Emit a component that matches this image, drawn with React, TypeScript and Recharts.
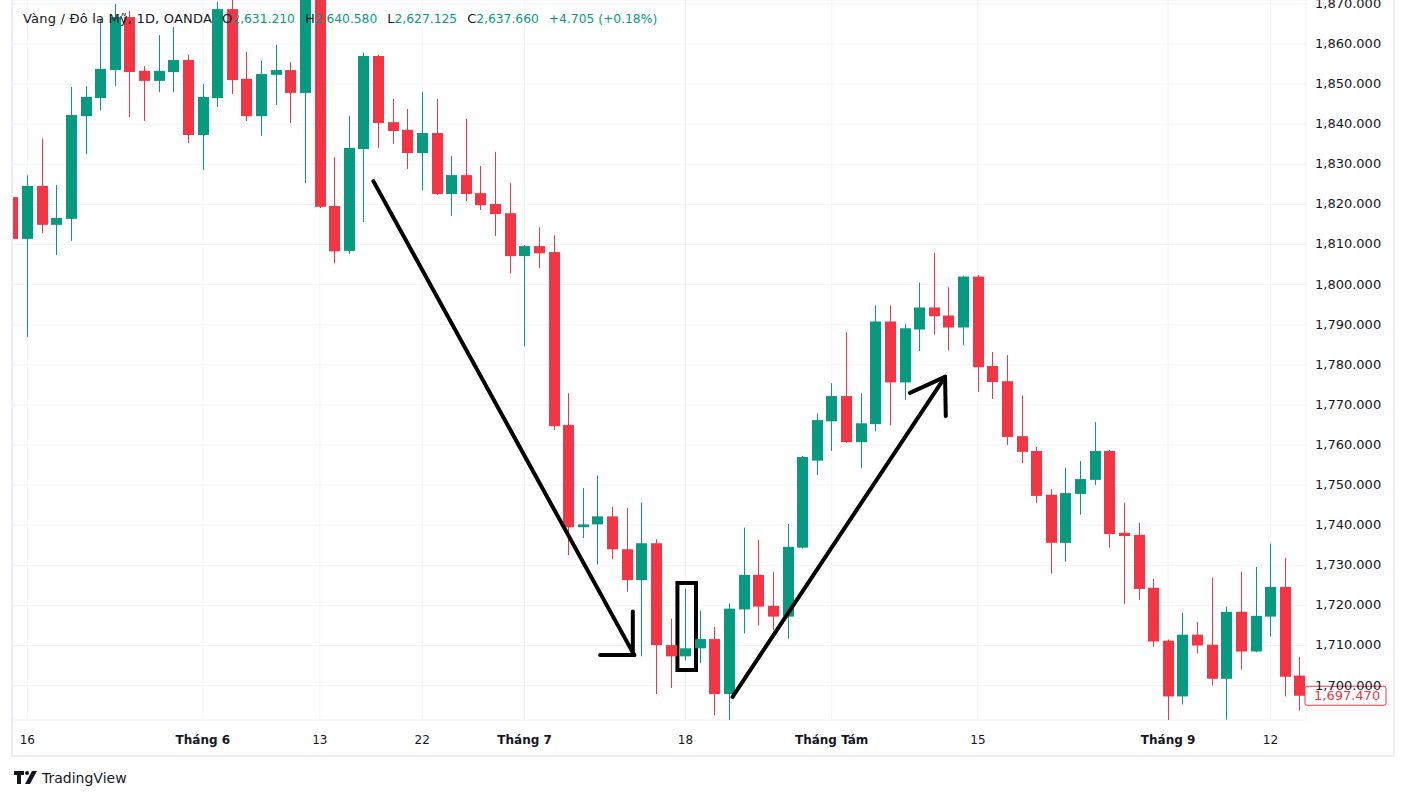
import React from "react";
import { ComposedChart, Bar, XAxis, YAxis, CartesianGrid, ReferenceLine, ReferenceArea } from "recharts";

// daily OHLC, XAU/USD (OANDA), 13 May -> 14 Sep
const opens = [
  1821.8, 1811.4, 1824.6, 1814.9, 1816.4, 1842.0, 1846.5, 1853.5, 1866.7, 1853.3,
  1850.8, 1853.0, 1856.0, 1837.3, 1846.5, 1868.7, 1851.3, 1842.0, 1852.3, 1853.5,
  1847.8, 1873.5, 1819.6, 1808.4, 1833.8, 1857.0, 1840.5, 1838.6, 1832.8, 1837.8,
  1822.6, 1827.3, 1822.8, 1820.1, 1817.8, 1807.1, 1809.6, 1808.1, 1765.0, 1739.5,
  1740.2, 1742.2, 1734.0, 1726.3, 1735.5, 1710.1, 1707.3, 1709.3, 1711.6, 1697.9,
  1719.0, 1727.6, 1719.9, 1717.2, 1734.4, 1756.1, 1765.9, 1772.2, 1760.7, 1765.2,
  1790.8, 1775.6, 1788.8, 1794.3, 1792.3, 1789.3, 1802.0, 1779.7, 1775.9, 1762.2,
  1758.5, 1747.6, 1735.6, 1747.8, 1751.3, 1758.5, 1738.1, 1737.6, 1724.4, 1711.2,
  1697.3, 1712.7, 1710.2, 1701.7, 1718.4, 1708.5, 1717.2, 1724.6, 1702.5,
];
const highs = [
  1822.0, 1827.2, 1836.4, 1824.8, 1849.3, 1849.5, 1866.0, 1870.0, 1868.2, 1854.5,
  1862.2, 1864.2, 1857.3, 1850.0, 1870.5, 1871.5, 1858.0, 1855.8, 1859.8, 1855.5,
  1876.0, 1876.0, 1831.8, 1842.0, 1857.8, 1857.3, 1846.3, 1843.8, 1848.0, 1846.3,
  1832.1, 1841.3, 1829.6, 1833.1, 1825.3, 1809.8, 1814.3, 1812.3, 1772.9, 1749.3,
  1752.4, 1744.6, 1744.3, 1745.6, 1736.5, 1716.7, 1724.2, 1718.7, 1714.6, 1720.5,
  1739.4, 1736.3, 1728.3, 1740.3, 1757.3, 1767.9, 1775.4, 1788.1, 1772.9, 1794.8,
  1794.8, 1790.1, 1800.5, 1808.0, 1799.3, 1802.2, 1802.4, 1783.2, 1782.4, 1772.4,
  1759.5, 1749.0, 1754.3, 1756.0, 1765.7, 1758.8, 1745.6, 1740.6, 1726.6, 1711.5,
  1718.2, 1715.9, 1726.9, 1719.7, 1728.4, 1729.6, 1735.4, 1731.9, 1707.2,
];
const lows = [
  1811.2, 1787.0, 1812.9, 1807.4, 1810.9, 1832.6, 1843.5, 1849.5, 1841.8, 1840.8,
  1848.0, 1848.0, 1835.3, 1828.6, 1844.3, 1847.5, 1840.8, 1837.1, 1844.8, 1840.3,
  1825.3, 1819.1, 1805.3, 1807.6, 1815.6, 1834.1, 1835.1, 1828.8, 1823.6, 1822.4,
  1817.1, 1820.8, 1818.6, 1812.1, 1802.8, 1784.6, 1804.1, 1763.8, 1732.5, 1736.8,
  1730.2, 1731.5, 1723.4, 1707.3, 1697.9, 1699.4, 1706.3, 1705.6, 1692.6, 1691.3,
  1713.0, 1715.0, 1713.9, 1711.7, 1734.2, 1752.5, 1758.5, 1760.5, 1754.2, 1763.4,
  1764.9, 1771.2, 1783.4, 1787.6, 1783.6, 1784.9, 1773.2, 1771.5, 1760.0, 1755.5,
  1745.6, 1727.9, 1730.9, 1742.6, 1750.0, 1734.4, 1720.4, 1721.4, 1709.7, 1691.0,
  1695.3, 1708.0, 1700.0, 1691.5, 1704.0, 1708.3, 1712.2, 1697.3, 1693.8,
];
const closes = [
  1811.4, 1824.6, 1814.9, 1816.6, 1842.3, 1846.8, 1853.8, 1866.7, 1853.0, 1850.8,
  1853.3, 1856.0, 1837.3, 1846.8, 1868.7, 1851.0, 1842.0, 1852.5, 1853.5, 1847.8,
  1871.5, 1819.4, 1808.3, 1834.1, 1857.0, 1840.3, 1838.3, 1832.8, 1837.8, 1822.6,
  1827.3, 1822.6, 1819.8, 1817.6, 1807.1, 1809.6, 1807.8, 1764.7, 1739.5, 1740.2,
  1742.2, 1734.0, 1726.3, 1735.5, 1710.1, 1707.3, 1709.3, 1711.6, 1697.9, 1719.2,
  1727.6, 1719.7, 1717.2, 1734.6, 1757.0, 1766.2, 1772.2, 1760.7, 1765.4, 1790.8,
  1775.6, 1789.1, 1794.3, 1792.1, 1789.3, 1802.0, 1779.4, 1775.7, 1762.0, 1758.3,
  1747.3, 1735.6, 1748.0, 1751.5, 1758.5, 1737.8, 1737.3, 1724.1, 1711.0, 1697.3,
  1712.7, 1710.0, 1701.7, 1718.4, 1708.5, 1717.4, 1724.6, 1702.2, 1697.47,
];

const timeTicks = [1, 13, 21, 28, 35, 46, 56, 66, 79, 86];
const timeLabels = ["16", "Tháng 6", "13", "22", "Tháng 7", "18", "Tháng Tám", "15", "Tháng 9", "12"];
const monthStart = [false, true, false, false, true, false, true, false, true, false];
const priceTicks = [1700, 1710, 1720, 1730, 1740, 1750, 1760, 1770, 1780, 1790, 1800, 1810, 1820, 1830, 1840, 1850, 1860, 1870];

// hand drawn marks, in (bar index, price)
const downArrow = [{ x: 24.66, y: 1825.8 }, { x: 42.5, y: 1707.6 }];
const downHeadH = [{ x: 40.17, y: 1707.6 }, { x: 42.5, y: 1707.6 }];
const downHeadV = [{ x: 42.4, y: 1718.5 }, { x: 42.4, y: 1707.6 }];
const upArrow = [{ x: 49.22, y: 1697.2 }, { x: 63.75, y: 1777.0 }];
const upHeadL = [{ x: 61.35, y: 1773.0 }, { x: 63.75, y: 1777.0 }];
const upHeadV = [{ x: 63.8, y: 1767.2 }, { x: 63.75, y: 1777.0 }];
const markBox = { x1: 45.45, x2: 46.72, y1: 1703.9, y2: 1725.6 };

const lastPrice = 1697.47;

const GREEN = "#089981";
const RED = "#F23645";
const TEXT = "#131722";
const FONT = "'DejaVu Sans', sans-serif";

const data = opens.map((o, i) => ({ i, o, h: highs[i], l: lows[i], c: closes[i] }));

const fmt = (v: number) =>
  v.toLocaleString("en-US", { minimumFractionDigits: 3, maximumFractionDigits: 3 });

function Candle(props: any) {
  const { x, y, width, height, payload } = props;
  if (!payload) return null;
  const { o, h, l, c } = payload;
  const top = Math.min(y, y + height);
  const bot = Math.max(y, y + height);
  const k = (bot - top) / (h - l || 1);
  const py = (v: number) => top + (h - v) * k;
  const cx = x + width / 2;
  const color = c >= o ? GREEN : RED;
  const bt = py(Math.max(o, c));
  const bb = py(Math.min(o, c));
  const wx = Math.floor(cx) + 0.5;
  return (
    <g>
      <line x1={wx} x2={wx} y1={top} y2={bot} stroke={color} strokeWidth={1} />
      <rect x={Math.round(cx - 5.5)} y={bt} width={11} height={Math.max(1, bb - bt)} fill={color} />
    </g>
  );
}

function PriceTick(props: any) {
  const { x, y, payload } = props;
  return (
    <text x={x + 9} y={y} dy={4} fontSize={13} fill={TEXT} fontFamily={FONT}>
      {fmt(payload.value)}
    </text>
  );
}

function TimeTick(props: any) {
  const { x, y, payload } = props;
  const k = timeTicks.indexOf(payload.value);
  if (k < 0) return null;
  return (
    <text x={x} y={y + 24} textAnchor="middle" fontSize={12} fill={TEXT} fontFamily={FONT}
      fontWeight={monthStart[k] ? "bold" : "normal"}>
      {timeLabels[k]}
    </text>
  );
}

function LastPriceLabel(props: any) {
  const vb = props.viewBox || {};
  const x0 = vb.x + vb.width - 1;
  const y0 = vb.y;
  return (
    <g>
      <rect x={x0} y={y0 - 9.5} width={81} height={19} rx={2} fill="#fff" stroke={RED} strokeWidth={1} />
      <text x={x0 + 9} y={y0} dy={4.5} fontSize={13} fill={RED} fontFamily={FONT}>
        {fmt(lastPrice)}
      </text>
    </g>
  );
}

const pen = { stroke: "#000", strokeWidth: 4, strokeLinecap: "round" as const, ifOverflow: "visible" as const };

export default function App() {
  const vals = [
    { k: "O", v: "2,631.210" },
    { k: "H", v: "2,640.580" },
    { k: "L", v: "2,627.125" },
    { k: "C", v: "2,637.660" },
  ];
  return (
    <div style={{ position: "absolute", left: 0, top: 0, width: 1406, height: 801, background: "#fff", overflow: "hidden" }}>
      <div style={{ position: "absolute", left: 0, top: 0 }}>
        <ComposedChart width={1406} height={758} data={data} margin={{ top: 0, right: 13, bottom: 1, left: 13 }}>
          <CartesianGrid stroke="#f0f3fa" />
          <XAxis dataKey="i" type="number" domain={[0.0205, 88.43]} allowDataOverflow ticks={timeTicks}
            interval={0} height={37} axisLine={false} tickLine={false} tickSize={0} tickMargin={0} tick={<TimeTick />} />
          <YAxis orientation="right" type="number" domain={[1691.42, 1870.97]} allowDataOverflow ticks={priceTicks}
            interval={0} width={87} axisLine={false} tickLine={false} tickSize={0} tickMargin={0} tick={<PriceTick />} />
          <Bar dataKey={(d: any) => [d.l, d.h]} barSize={11} shape={<Candle />} isAnimationActive={false} />
          <ReferenceLine segment={downArrow} {...pen} />
          <ReferenceLine segment={downHeadH} {...pen} />
          <ReferenceLine segment={downHeadV} {...pen} />
          <ReferenceLine segment={upArrow} {...pen} />
          <ReferenceLine segment={upHeadL} {...pen} />
          <ReferenceLine segment={upHeadV} {...pen} />
          <ReferenceArea x1={markBox.x1} x2={markBox.x2} y1={markBox.y1} y2={markBox.y2}
            fill="none" fillOpacity={0} stroke="#000" strokeWidth={4} strokeOpacity={1} ifOverflow="visible" />
          <ReferenceLine y={lastPrice} stroke="none" label={(p: any) => <LastPriceLabel {...p} />} />
        </ComposedChart>
      </div>
      {/* widget frame */}
      <div style={{ position: "absolute", left: 11, top: -2, width: 1380, height: 757, borderLeft: "2px solid #eceef4",
        borderRight: "2px solid #eceef4", borderBottom: "2px solid #eceef4", pointerEvents: "none" }} />
      {/* legend */}
      <div style={{ position: "absolute", left: 23, top: 10, fontFamily: FONT, fontSize: 13, lineHeight: "17px",
        color: TEXT, whiteSpace: "nowrap" }}>
        <span style={{ letterSpacing: 0.2 }}>Vàng / Đô la Mỹ, 1D, OANDA</span>
        {vals.map((d) => (
          <span key={d.k} style={{ marginLeft: 10 }}>
            {d.k}<span style={{ color: GREEN, fontSize: 12.3 }}>{d.v}</span>
          </span>
        ))}
        <span style={{ marginLeft: 10, color: GREEN, fontSize: 12.3 }}>+4.705 (+0.18%)</span>
      </div>
      {/* footer logo */}
      <div style={{ position: "absolute", left: 14, top: 770, display: "flex", alignItems: "center", fontFamily: FONT,
        fontSize: 14, color: TEXT }}>
        <svg width={24} height={14} viewBox="0 0 24 14" style={{ marginRight: 4 }}>
          <path d="M0 0 H10 V4 H7 V13 H3 V4 H0 Z" fill={TEXT} />
          <circle cx={13} cy={2} r={2} fill={TEXT} />
          <path d="M18 0 H23 L16 13 H11 Z" fill={TEXT} />
        </svg>
        <span>TradingView</span>
      </div>
    </div>
  );
}
